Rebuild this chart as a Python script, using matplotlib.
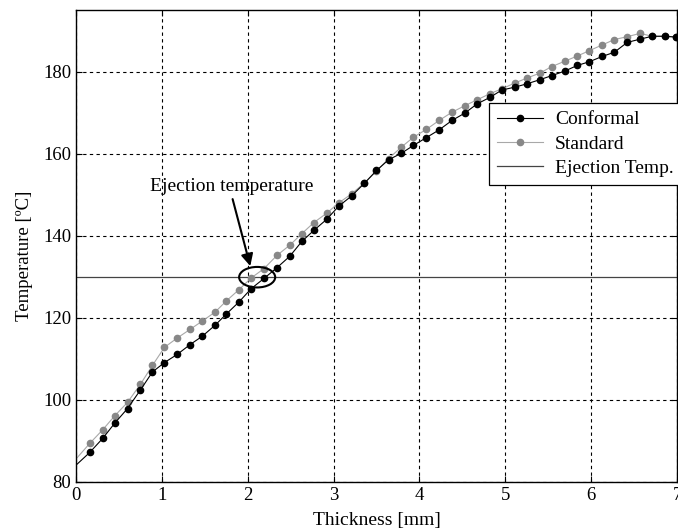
import numpy as np
from matplotlib import pyplot as plt
from matplotlib.patches import Ellipse

# Cooling profile through the part thickness: conformal vs standard channels

thickness = [0.0, 0.16, 0.31, 0.45, 0.60, 0.75, 0.89, 1.03, 1.18, 1.33, 1.47, 1.62, 1.75,
             1.90, 2.04, 2.19, 2.34, 2.49, 2.63, 2.77, 2.92, 3.06, 3.21, 3.36, 3.50,
             3.64, 3.79, 3.93, 4.08, 4.23, 4.38, 4.53, 4.67, 4.82, 4.96, 5.11, 5.25,
             5.40, 5.54, 5.69, 5.84, 5.98, 6.13, 6.27, 6.42, 6.57, 6.71, 6.86, 6.99]

conformal = [84.1, 87.2, 90.6, 94.3, 97.9, 102.4, 106.8, 109.1, 111.1, 113.5, 115.5, 118.2, 120.9,
             123.9, 127.1, 129.6, 132.2, 135.0, 138.6, 141.3, 144.0, 147.2, 149.7, 152.8, 155.9,
             158.5, 160.1, 162.0, 163.9, 165.8, 168.1, 169.9, 172.1, 173.7, 175.5, 176.2, 177.0,
             178.0, 179.0, 180.1, 181.5, 182.4, 183.7, 184.7, 187.1, 187.9, 188.6, 188.6, 188.4]

standard = [85.6, 89.4, 92.7, 96.1, 99.4, 103.8, 108.4, 112.8, 115.1, 117.2, 119.2, 121.4, 124.1,
            126.9, 129.7, 132.0, 135.2, 137.7, 140.5, 143.2, 145.5, 148.0, 150.2, 152.9, 155.7,
            158.8, 161.6, 164.0, 165.9, 168.1, 170.1, 171.7, 173.1, 174.6, 175.8, 177.2, 178.4,
            179.6, 181.2, 182.5, 183.8, 185.1, 186.5, 187.8, 188.5, 189.3, 188.6, 188.6, 188.4]

ejection_temp = 130
x_ticks = [0, 1, 2, 3, 4, 5, 6, 7]
y_ticks = [80, 100, 120, 140, 160, 180]

plt.rcParams['font.family'] = ['Liberation Serif', 'DejaVu Serif']
font_size = 14

fig = plt.figure(figsize=(6.78, 5.31), dpi=100)
ax = fig.add_axes([76 / 678, 49 / 531, 601 / 678, 472 / 531])

ax.plot(thickness, conformal, color='black', lw=0.8, marker='o', ms=4.5,
        markevery=slice(1, None), label='Conformal', zorder=3)
ax.plot(thickness, standard, color='#a8a8a8', lw=0.8, marker='o', ms=4.5,
        mfc='#888888', mec='#888888', markevery=slice(1, None), label='Standard', zorder=2)
ax.axhline(ejection_temp, color='#444444', lw=0.9, label='Ejection Temp.', zorder=1)

# circle + arrow marking where the curves cross the ejection temperature
ax.add_patch(Ellipse((2.11, 129.9), 0.42, 5.0, fill=False, color='black', lw=1.5, zorder=4))
ax.annotate('Ejection temperature', xy=(2.03, 132.6), xytext=(0.86, 152.0),
            fontsize=font_size, va='center', ha='left',
            arrowprops=dict(arrowstyle='-|>', color='black', lw=1.5, mutation_scale=18,
                            shrinkA=1, shrinkB=0, relpos=(0.5, 0.0)))

ax.set_xlim(0, 7)
ax.set_ylim(80, 195)
ax.set_xticks(x_ticks)
ax.set_yticks(y_ticks)
ax.tick_params(direction='in', labelsize=13.5, length=4, top=True, right=True)
ax.grid(True, color='black', linestyle=(0, (3, 3)), lw=0.8)
ax.set_axisbelow(True)
for s in ax.spines.values():
    s.set_linewidth(1.0)

ax.set_xlabel('Thickness [mm]', fontsize=font_size, labelpad=6)
ax.set_ylabel('Temperature [ºC]', fontsize=13.5, labelpad=2)
ax.yaxis.set_label_coords(-0.072, 0.48)

leg = ax.legend(loc='upper left', bbox_to_anchor=(0.687, 0.803), borderaxespad=0,
                fancybox=False, edgecolor='black', framealpha=1, fontsize=font_size,
                handlelength=2.4, handletextpad=0.6, labelspacing=0.35, borderpad=0.4)
leg.get_frame().set_linewidth(0.9)

fig.savefig('out.png', dpi=100)
